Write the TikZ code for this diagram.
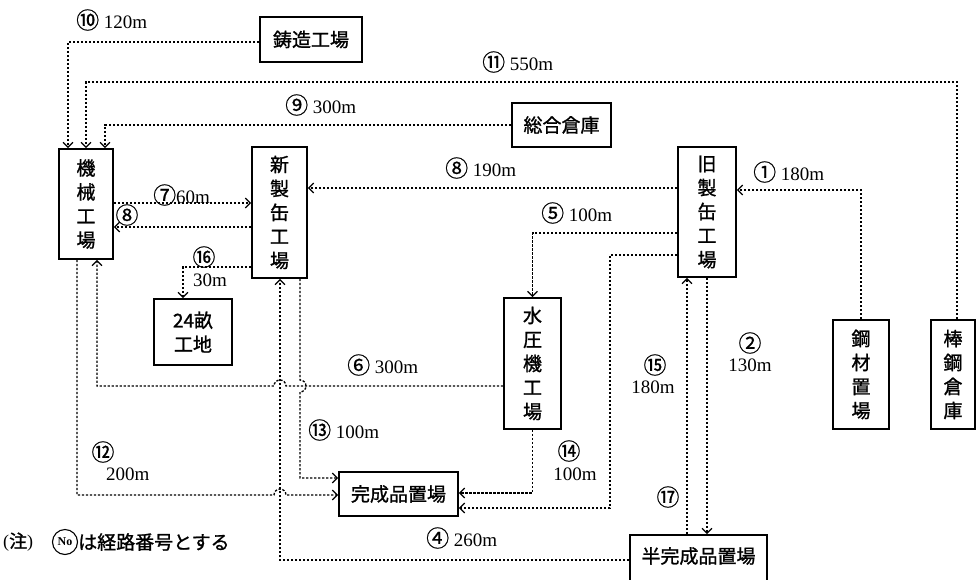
\documentclass[tikz,border=0pt]{standalone}
\usepackage{fontspec}
\setmainfont{Liberation Serif}
\newfontfamily\cjk[FakeBold=1.2]{Noto Sans CJK JP}
\newfontfamily\cjkc[FakeBold=0.6]{Noto Sans CJK JP}
\usetikzlibrary{arrows.meta}
\newcommand\circnum[1]{{\cjkc\fontsize{23}{23}\selectfont #1}}
\begin{document}
\begin{tikzpicture}[x=1pt,y=-1pt,
 box/.style={draw, line width=1.6pt, inner sep=0pt, font=\cjk\fontsize{19}{24}\selectfont, align=center},
 route/.style={line width=1.3pt, dash pattern=on 2.4pt off 1.6pt},
 arr/.style={route, -{Straight Barb[length=5pt,width=10pt]}},
 lab/.style={font=\fontsize{19}{22}\selectfont, inner sep=0pt},
 ]
\useasboundingbox (0,0) rectangle (977,579);
\fill[white] (0,0) rectangle (977,579);

% boxes
\node[box, minimum width=102pt, minimum height=45pt] (chuzo) at (311,39.5) {鋳造工場};
\node[box, minimum width=99pt, minimum height=44pt] (sogo) at (561.5,125) {総合倉庫};
\node[box, minimum width=54pt, minimum height=110pt] (kikai) at (86,204) {機\\械\\工\\場};
\node[box, minimum width=55pt, minimum height=131pt] (shin) at (279.5,212.5) {新\\製\\缶\\工\\場};
\node[box, minimum width=58pt, minimum height=130pt] (kyu) at (707,212) {旧\\製\\缶\\工\\場};
\node[box, minimum width=78pt, minimum height=66pt] (mu) at (193,332) {24畝\\工地};
\node[box, minimum width=57pt, minimum height=131pt] (sui) at (532.5,363.5) {水\\圧\\機\\工\\場};
\node[box, minimum width=56pt, minimum height=109pt] (kozai) at (861,374.5) {鋼\\材\\置\\場};
\node[box, minimum width=44pt, minimum height=109pt] (bokou) at (953,374.5) {棒\\鋼\\倉\\庫};
\node[box, minimum width=119pt, minimum height=44pt] (kansei) at (398.5,494) {完成品置場};
\node[box, minimum width=137pt, minimum height=70pt] (han) at (698.5,570) {};
\node[font=\cjk\fontsize{19}{24}\selectfont, inner sep=0pt] (hantext) at (698.5,556) {半完成品置場};

% routes
\draw[arr] (chuzo.west |- 0,42) -| ([xshift=-18pt]kikai.north);
\draw[arr] ([xshift=4pt]bokou.north) |- (86,82) -- (kikai.north);
\draw[arr] (sogo.west) -| ([xshift=19pt]kikai.north);
\draw[arr] (kyu.west |- 0,188) -- (shin.east |- 0,188);
\draw[arr] (kozai.north) |- (kyu.east |- 0,190);
\draw[arr] (kikai.east |- 0,203) -- (shin.west |- 0,203);
\draw[arr] (shin.west |- 0,227) -- (kikai.east |- 0,227);
\draw[arr] (shin.west |- 0,267) -| (mu.north -| 183,0);
\draw[arr] (kyu.west |- 0,233) -| (sui.north);
\draw[arr] (sui.west |- 0,386) -- (286,386) arc (0:180:6pt) -- (97,386) -- (kikai.south -| 97,0);
\draw[arr] (shin.south -| 300,0) -- (300,380) arc (90:-90:6pt) -- (300,478) -- (kansei.west |- 0,478);
\draw[arr] (han.west |- 0,560) -- (280,560) -- (shin.south -| 280,0);
\draw[arr] (kikai.south -| 77,0) -- (77,495) -- (274,495) arc (180:0:6pt) -- (kansei.west |- 0,495);
\draw[arr] (sui.south) |- (kansei.east |- 0,493);
\draw[arr] (kyu.west |- 0,255) -- (610,255) -- (610,508) -- (kansei.east |- 0,508);
\draw[arr] (han.north -| 687,0) -- (kyu.south -| 687,0);
\draw[arr] (kyu.south -| 707,0) -- (han.north -| 707,0);

% labels
\node[lab, anchor=west] (l10) at (76,20) {\circnum{⑩} 120m};
\node[lab, anchor=west] (l11) at (482,62) {\circnum{⑪} 550m};
\node[lab, anchor=west] (l9) at (285,105) {\circnum{⑨} 300m};
\node[lab, anchor=west] (l8) at (445,168) {\circnum{⑧} 190m};
\node[lab, anchor=west] (l1) at (753,172) {\circnum{①} 180m};
\node[lab, anchor=west] (l7) at (153,195) {\circnum{⑦}60m};
\node[lab] (l8b) at (127,215) {\circnum{⑧}};
\node[lab] (l16) at (204,257) {\circnum{⑯}};
\node[lab] (l16m) at (210,280) {30m};
\node[lab, anchor=west] (l5) at (541,213) {\circnum{⑤} 100m};
\node[lab, anchor=west] (l6) at (347,365) {\circnum{⑥} 300m};
\node[lab, anchor=west] (l13) at (308,430) {\circnum{⑬} 100m};
\node[lab] (l12) at (103,452) {\circnum{⑫}};
\node[lab, anchor=west] (l12m) at (106,474) {200m};
\node[lab] (l14) at (569,451) {\circnum{⑭}};
\node[lab] (l14m) at (575,474) {100m};
\node[lab] (l15) at (655,365) {\circnum{⑮}};
\node[lab] (l15m) at (653,387) {180m};
\node[lab] (l2) at (750,343) {\circnum{②}};
\node[lab] (l2m) at (750,365) {130m};
\node[lab] (l17) at (668,497) {\circnum{⑰}};
\node[lab, anchor=west] (l4) at (426,538) {\circnum{④} 260m};

% note
\node[anchor=west, inner sep=0pt, font=\fontsize{18}{18}\selectfont] (note1) at (3,542) {({\cjk 注})};
\node[draw, circle, line width=1.1pt, inner sep=0pt, minimum size=25pt, font=\fontsize{12}{12}\selectfont\bfseries] (noc) at (65,542) {No};
\node[anchor=west, inner sep=0pt, font=\cjk\fontsize{19}{19}\selectfont] (note2) at (78,542) {は経路番号とする};
\end{tikzpicture}
\end{document}
